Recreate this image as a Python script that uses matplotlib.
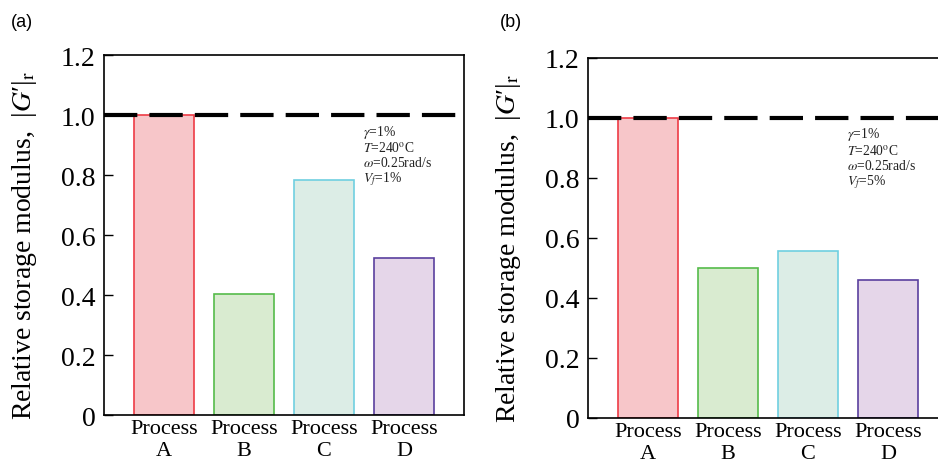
import matplotlib
matplotlib.use('Agg')
import matplotlib.pyplot as plt

# data
processes = ['Process\nA', 'Process\nB', 'Process\nC', 'Process\nD']
modulus_a = [1.0, 0.404, 0.785, 0.523]
modulus_b = [1.0, 0.499, 0.557, 0.460]
cond_a = ['$\\gamma$=1%', '$T$=240$^{\\rm o}$C', '$\\omega$=0.25rad/s', '$V_f$=1%']
cond_b = ['$\\gamma$=1%', '$T$=240$^{\\rm o}$C', '$\\omega$=0.25rad/s', '$V_f$=5%']
yticks = [0, 0.2, 0.4, 0.6, 0.8, 1.0, 1.2]
ytick_labels = ['0', '0.2', '0.4', '0.6', '0.8', '1.0', '1.2']

fill_colors = ['#f7c6c9', '#d9ebd0', '#dcede6', '#e5d6e9']
edge_colors = ['#ee3b45', '#55bb4a', '#6fd0e0', '#5a3f9e']

plt.rcParams['font.family'] = 'Liberation Serif'
plt.rcParams['mathtext.fontset'] = 'stix'


def draw_panel(fig, rect, values, cond, tag, tag_xy):
    ax = fig.add_axes(rect)
    x = range(len(values))
    ax.bar(x, values, width=0.75, color=fill_colors, edgecolor=edge_colors,
           linewidth=1.2, zorder=2)
    ax.axhline(1.0, color='black', lw=3, dashes=(8, 2.9), zorder=3)
    ax.set_xlim(-0.75, 3.75)
    ax.set_ylim(0, 1.2)
    ax.set_xticks(list(x))
    ax.set_xticklabels(processes, fontsize=16, linespacing=1.2)
    ax.set_yticks(yticks)
    ax.set_yticklabels(ytick_labels, fontsize=20)
    ax.tick_params(axis='y', direction='in', length=6.5, width=1, pad=6)
    ax.tick_params(axis='x', length=0, pad=3)
    for s in ax.spines.values():
        s.set_linewidth(1.2)
    ax.set_ylabel("Relative storage modulus,  |$G$\u2032|$_{\\rm r}$", fontsize=20)
    ax.yaxis.set_label_coords(-0.18, 0.475)
    ax.text(2.49, 0.975, '\n'.join(cond), fontsize=9.8, va='top', ha='left',
            linespacing=1.05, color='#222222')
    fig.text(tag_xy[0], tag_xy[1], tag, fontsize=13, family='Liberation Sans',
             ha='left', va='center')
    return ax


fig = plt.figure(figsize=(9.38, 4.64), dpi=100)
draw_panel(fig, [0.1109, 0.1034, 0.3838, 0.7759], modulus_a, cond_a, '(a)', (0.012, 0.952))
draw_panel(fig, [0.6269, 0.0970, 0.3838, 0.7759], modulus_b, cond_b, '(b)', (0.533, 0.952))

fig.savefig('out.png', dpi=100)
